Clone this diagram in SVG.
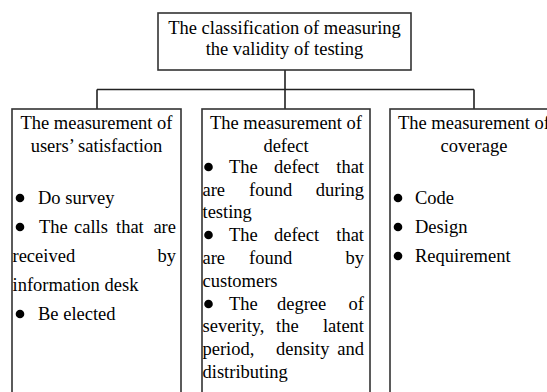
<svg xmlns="http://www.w3.org/2000/svg" width="547" height="392" viewBox="0 0 547 392">
  <style>
    .box { fill: #ffffff; stroke: #333333; stroke-width: 1.6; }
    .wire { fill: none; stroke: #222222; stroke-width: 1.6; }
    text { font-family: "Liberation Serif", "Times New Roman", serif; font-size: 18.5px; fill: #000000; }
    .mid { text-anchor: middle; }
    .end { text-anchor: end; }
    .dot { fill: #000000; }
  </style>
  <rect width="547" height="392" fill="#ffffff"/>

  <!-- connectors: root down to the bus, bus to each branch -->
  <g id="connectors">
    <path class="wire" d="M285,70 V89.5 M97,89.5 H474 M97,89.5 V109 M285,89.5 V109 M474,89.5 V109"/>
  </g>

  <!-- root -->
  <g id="root">
    <rect class="box" x="158" y="13" width="253" height="57"/>
    <text class="mid" x="284.5" y="34">The classification of measuring</text>
    <text class="mid" x="284.5" y="55">the validity of testing</text>
  </g>

  <!-- branch: users' satisfaction -->
  <g id="satisfaction">
    <rect class="box" x="12" y="109" width="169" height="300"/>
    <text class="mid" x="96.5" y="129">The measurement of</text>
    <text class="mid" x="96.5" y="152">users’ satisfaction</text>
    <circle class="dot" cx="20" cy="198" r="4.3"/>
    <text x="38" y="204">Do survey</text>
    <circle class="dot" cx="20" cy="227" r="4.3"/>
    <text y="233"><tspan x="39">The</tspan><tspan x="74">calls</tspan><tspan x="116">that</tspan></text>
    <text class="end" x="176" y="233">are</text>
    <text x="12.5" y="262">received</text>
    <text class="end" x="176" y="262">by</text>
    <text x="12.5" y="291">information desk</text>
    <circle class="dot" cx="20" cy="314" r="4.3"/>
    <text x="38" y="320">Be elected</text>
  </g>

  <!-- branch: defect -->
  <g id="defect">
    <rect class="box" x="202" y="109" width="168" height="300"/>
    <text class="mid" x="286" y="129">The measurement of</text>
    <text class="mid" x="286" y="152">defect</text>
    <circle class="dot" cx="208.5" cy="167" r="4.3"/>
    <text y="173"><tspan x="229">The</tspan><tspan x="274">defect</tspan></text>
    <text class="end" x="364" y="173">that</text>
    <text y="196"><tspan x="202.5">are</tspan><tspan x="249">found</tspan></text>
    <text class="end" x="364" y="196">during</text>
    <text x="202.5" y="218">testing</text>
    <circle class="dot" cx="208.5" cy="235" r="4.3"/>
    <text y="241"><tspan x="229">The</tspan><tspan x="274">defect</tspan></text>
    <text class="end" x="364" y="241">that</text>
    <text y="264"><tspan x="202.5">are</tspan><tspan x="249">found</tspan></text>
    <text class="end" x="364" y="264">by</text>
    <text x="202.5" y="287">customers</text>
    <circle class="dot" cx="208.5" cy="304" r="4.3"/>
    <text y="310"><tspan x="229">The</tspan><tspan x="277">degree</tspan></text>
    <text class="end" x="364" y="310">of</text>
    <text y="332"><tspan x="202.5">severity,</tspan><tspan x="276">the</tspan></text>
    <text class="end" x="364" y="332">latent</text>
    <text y="355"><tspan x="202.5">period,</tspan><tspan x="276">density</tspan></text>
    <text class="end" x="364" y="355">and</text>
    <text x="202.5" y="378">distributing</text>
  </g>

  <!-- branch: coverage -->
  <g id="coverage">
    <rect class="box" x="390" y="109" width="168" height="300"/>
    <text class="mid" x="474" y="129">The measurement of</text>
    <text class="mid" x="474" y="152">coverage</text>
    <circle class="dot" cx="398" cy="198" r="4.3"/>
    <text x="415" y="204">Code</text>
    <circle class="dot" cx="398" cy="227" r="4.3"/>
    <text x="415" y="233">Design</text>
    <circle class="dot" cx="398" cy="256" r="4.3"/>
    <text x="415" y="262">Requirement</text>
  </g>
</svg>
